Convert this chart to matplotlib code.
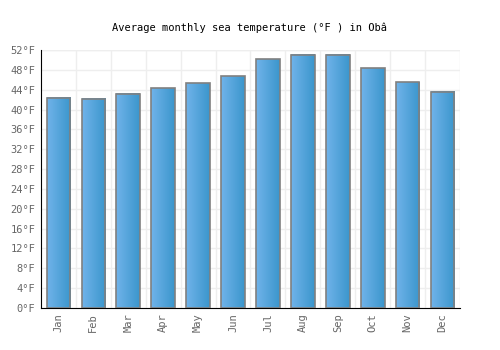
import numpy as np
import matplotlib.pyplot as plt
from matplotlib.colors import LinearSegmentedColormap

months = ['Jan', 'Feb', 'Mar', 'Apr', 'May', 'Jun', 'Jul', 'Aug', 'Sep', 'Oct', 'Nov', 'Dec']
temps = [42.4, 42.2, 43.2, 44.3, 45.3, 46.7, 50.1, 51.1, 51.1, 48.3, 45.5, 43.6]
yticks = list(range(0, 53, 4))
ylabels = [str(t) + '°F' for t in yticks]

plt.rcParams['font.family'] = ['DejaVu Sans Mono']

fig = plt.figure(figsize=[5, 3.5], dpi=100)
ax = fig.add_axes([0.082, 0.12, 0.838, 0.737])

x = np.arange(len(months))
bars = ax.bar(x, temps, width=0.68, facecolor='none', edgecolor='#808080', linewidth=1.2, zorder=3)

cmap = LinearSegmentedColormap.from_list('blu', ['#70b3ea', '#3b96cc'])
grad = np.linspace(0, 1, 64).reshape(1, -1)
for b in bars:
    x0, y0 = b.get_x(), b.get_y()
    ax.imshow(grad, extent=[x0, x0 + b.get_width(), y0, y0 + b.get_height()],
              aspect='auto', cmap=cmap, zorder=2, interpolation='bicubic')

ax.set_xlim(-0.5, len(months) - 0.5)
ax.set_ylim(0, 52)
ax.set_yticks(yticks)
ax.set_yticklabels(ylabels, color='#666666', fontsize=7.5)
ax.set_xticks(x)
ax.set_xticklabels(months, rotation=90, color='#666666', fontsize=7.5)
ax.set_xticks(x[:-1] + 0.5, minor=True)
ax.tick_params(axis='both', which='both', length=0, pad=4)
ax.grid(axis='y', color='#eeeeee', linewidth=1, zorder=0)
ax.grid(axis='x', which='minor', color='#eeeeee', linewidth=1, zorder=0)
ax.axvline(len(months) - 0.5, color='#eeeeee', linewidth=1, zorder=0)
ax.axhline(52, color='#eeeeee', linewidth=1, zorder=0)
ax.set_axisbelow(True)
for s in ['top', 'right']:
    ax.spines[s].set_visible(False)
ax.spines['left'].set_color('black')
ax.spines['bottom'].set_color('black')

fig.text(0.5, 0.912, 'Average monthly sea temperature (°F ) in Obâ', ha='center', fontsize=7.5)

fig.savefig('out.png', dpi=100)
